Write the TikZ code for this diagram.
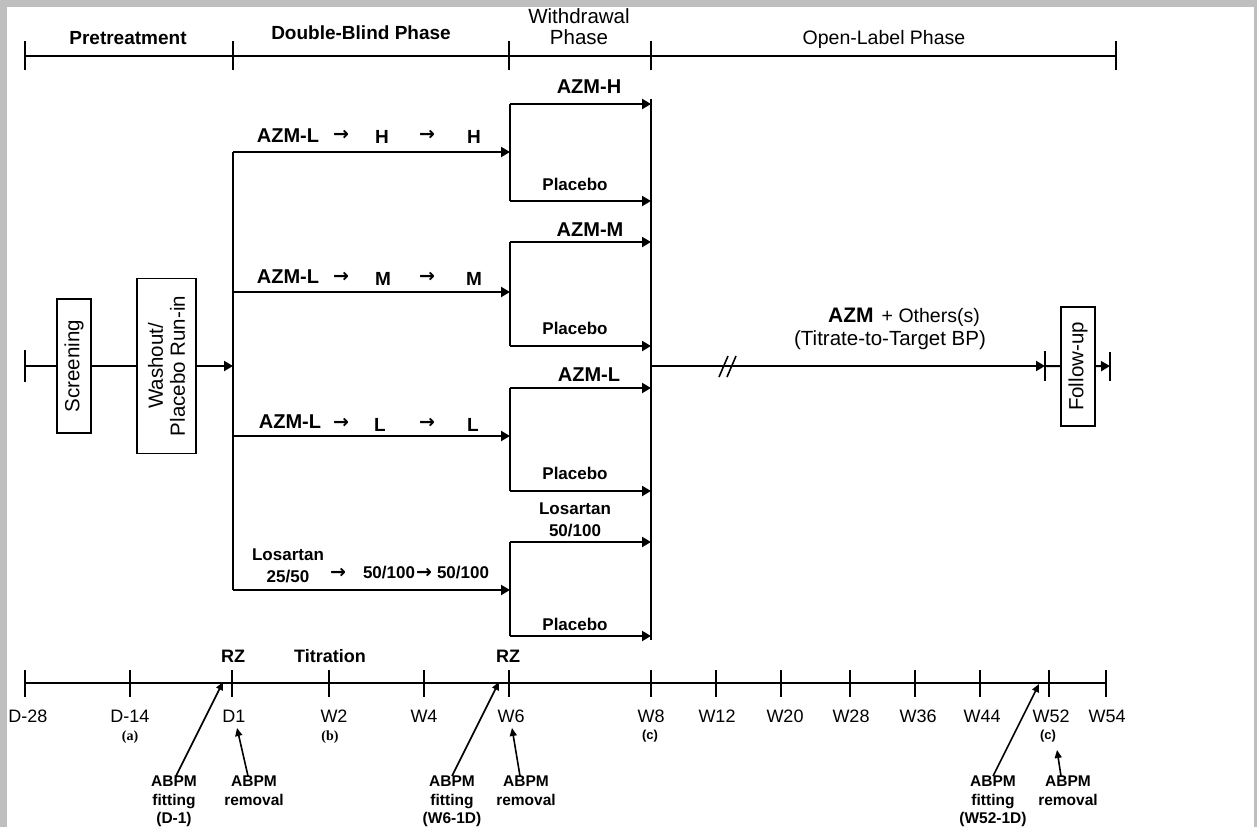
\documentclass[tikz,border=0pt]{standalone}
\usepackage{fontspec}
\setmainfont{Liberation Sans}
\newfontfamily\arrfont{DejaVu Sans}
\newfontfamily\serfont{Liberation Serif}
\usetikzlibrary{arrows.meta}
\definecolor{framegray}{RGB}{191,191,191}
\begin{document}
\begin{tikzpicture}[x=1pt,y=-1pt,
  ln/.style={line width=2pt},
  arr/.style={line width=2pt,-{Triangle[length=9pt,width=10pt]}},
  tk/.style={line width=1.8pt},
  aarr/.style={line width=1.6pt,-{Triangle[length=8pt,width=7pt]}},
  vbox/.style={draw,line width=1.8pt,rotate=90,inner sep=1pt,align=center,font=\fontsize{20.5}{22}\selectfont},
  ttl/.style={font=\fontsize{19}{22}\selectfont\bfseries,inner sep=0pt},
  ttlr/.style={font=\fontsize{19.5}{22}\selectfont,inner sep=0pt,align=center},
  big/.style={font=\fontsize{20}{22}\selectfont\bfseries,inner sep=0pt},
  lvl/.style={font=\fontsize{19}{22}\selectfont\bfseries,inner sep=0pt},
  ra/.style={font=\arrfont\fontsize{19}{20}\selectfont\bfseries,inner sep=0pt},
  mid/.style={font=\fontsize{17}{21.5}\selectfont\bfseries,inner sep=0pt,align=center},
  tl/.style={font=\fontsize{18}{20}\selectfont,inner sep=0pt},
  sm/.style={font=\fontsize{13}{15}\selectfont\bfseries,inner sep=0pt},
  smser/.style={font=\serfont\fontsize{14}{15}\selectfont\bfseries,inner sep=0pt},
  abpm/.style={font=\fontsize{15.5}{18.5}\selectfont\bfseries,inner sep=0pt,align=center,anchor=north}
]
% frame
\fill[framegray] (0,0) rectangle (1257,827);
\fill[white] (7,7) rectangle (1254,827);
\useasboundingbox (0,0) rectangle (1257,827);

% ---- top phase line
\draw[ln] (25,56) -- (1116,56);
\foreach \x in {25,233,509,651,1116} \draw[tk] (\x,41) -- (\x,70);
\node[ttl] (pre) at (128,38) {Pretreatment};
\node[ttl] (dbp) at (361,33) {Double-Blind Phase};
\node[ttlr,font=\fontsize{20.5}{21}\selectfont] (wdp) at (579,27) {Withdrawal\\Phase};
\node[ttlr] (olp) at (884,39) {Open-Label Phase};

% ---- pretreatment flow
\coordinate (start) at (25,366);
\draw[tk] (25,350) -- (25,382);
\node[vbox,minimum width=134,minimum height=34] (scr) at (74,366) {Screening};
\node[vbox,minimum width=175,minimum height=59] (wash) at (166.5,366) {Washout/\\Placebo Run-in};
\coordinate (trunk) at (233,366);
\draw[ln] (start) -- (scr);
\draw[ln] (scr) -- (wash);
\draw[arr] (wash) -- (trunk);

% ---- double-blind branches
\coordinate (b1) at (233,152);
\coordinate (b2) at (233,292);
\coordinate (b3) at (233,436);
\coordinate (b4) at (233,590);
\draw[ln] (b1) -- (b4);
\coordinate (w1) at (510,152);
\coordinate (w2) at (510,292);
\coordinate (w3) at (510,436);
\coordinate (w4) at (510,590);
\foreach \i in {1,2,3,4} \draw[arr] (b\i) -- (w\i);

% branch labels
\node[big] at (288,136) {AZM-L};
\node[ra] at (341,135) {→};
\node[lvl] at (382,137) {H};
\node[ra] at (427,135) {→};
\node[lvl] at (474,137) {H};

\node[big] at (288,277) {AZM-L};
\node[ra] at (341,277) {→};
\node[lvl] at (383,279) {M};
\node[ra] at (427,277) {→};
\node[lvl] at (474,279) {M};

\node[big] at (290,422) {AZM-L};
\node[ra] at (341,423) {→};
\node[lvl] at (380,425) {L};
\node[ra] at (427,423) {→};
\node[lvl] at (473,425) {L};

\node[mid] at (288,566) {Losartan\\25/50};
\node[ra] at (338,573) {→};
\node[mid] at (389,573) {50/100};
\node[ra] at (424,573) {→};
\node[mid] at (463,573) {50/100};

% ---- withdrawal phase
\coordinate (p1a) at (510,104); \coordinate (p1b) at (510,201);
\coordinate (p2a) at (510,242); \coordinate (p2b) at (510,346);
\coordinate (p3a) at (510,388); \coordinate (p3b) at (510,491);
\coordinate (p4a) at (510,542); \coordinate (p4b) at (510,636);
\coordinate (q1a) at (651,104); \coordinate (q1b) at (651,201);
\coordinate (q2a) at (651,242); \coordinate (q2b) at (651,346);
\coordinate (q3a) at (651,388); \coordinate (q3b) at (651,491);
\coordinate (q4a) at (651,542); \coordinate (q4b) at (651,636);
\foreach \i in {1,2,3,4} {
  \draw[ln] (p\i a) -- (p\i b);
  \draw[arr] (p\i a) -- (q\i a);
  \draw[arr] (p\i b) -- (q\i b);
}
\coordinate (ra) at (651,99);
\coordinate (rb) at (651,640);
\draw[ln] (ra) -- (rb);

\node[big] at (589,87) {AZM-H};
\node[mid] at (575,184) {Placebo};
\node[big] at (590,230) {AZM-M};
\node[mid] at (575,328) {Placebo};
\node[big] at (589,375) {AZM-L};
\node[mid] at (575,473) {Placebo};
\node[mid] at (575,520) {Losartan\\50/100};
\node[mid] at (575,624) {Placebo};

% ---- open-label phase
\coordinate (o0) at (651,366);
\coordinate (o1) at (1045,366);
\draw[arr] (o0) -- (o1);
\draw[tk] (1045,351) -- (1045,381);
\draw[line width=1.6pt] (719,377) -- (728,356) (727,377) -- (736,356);
\node[vbox,minimum width=119,minimum height=34] (fu) at (1078,366.5) {Follow-up};
\coordinate (o2) at (1110,366);
\draw[ln] (o1) -- (fu);
\draw[arr] (fu) -- (o2);
\draw[tk] (1110,352) -- (1110,381);
\node[inner sep=0pt] (azm) at (904,317) {{\fontsize{21}{22}\selectfont\bfseries AZM}\hspace{8pt}{\fontsize{19.5}{22}\selectfont + Others(s)}};
\node[ttlr,font=\fontsize{20.5}{22}\selectfont] (ttb) at (890,340) {(Titrate-to-Target BP)};

% ---- bottom timeline
\draw[ln] (25,683) -- (1106,683);
\foreach \x in {25,130,232,329,424,509,651,716,781,850,915,980,1049,1106}
  \draw[tk] (\x,670) -- (\x,697);
\node[mid,font=\fontsize{18}{20}\selectfont\bfseries] at (233,656) {RZ};
\node[mid,font=\fontsize{18}{20}\selectfont\bfseries] at (330,656) {Titration};
\node[mid,font=\fontsize{18}{20}\selectfont\bfseries] at (508,656) {RZ};
\foreach \x/\t in {28/D-28,130/D-14,234/D1,334/W2,424/W4,511/W6,651/W8,717/W12,785/W20,851/W28,918/W36,982/W44,1051/W52,1107/W54}
  \node[tl] at (\x,716) {\t};
\node[smser] at (130,737) {(a)};
\node[smser] at (330,737) {(b)};
\node[sm] at (650,736) {(c)};
\node[sm] at (1048,736) {(c)};

% ABPM notes
\node[abpm] (f1) at (174,776) {ABPM\\fitting\\(D-1)};
\node[abpm] (r1) at (254,776) {ABPM\\removal};
\node[abpm] (f2) at (452,776) {ABPM\\fitting\\(W6-1D)};
\node[abpm] (r2) at (526,776) {ABPM\\removal};
\node[abpm] (f3) at (993,776) {ABPM\\fitting\\(W52-1D)};
\node[abpm] (r3) at (1068,776) {ABPM\\removal};
\coordinate (hf1) at (223,682);
\coordinate (hr1) at (237,728);
\coordinate (hf2) at (499,682);
\coordinate (hr2) at (512,728);
\coordinate (hf3) at (1039,684);
\coordinate (hr3) at (1057,750);
\draw[aarr] ([xshift=2pt]f1.north) -- (hf1);
\draw[aarr] ([xshift=-6pt]r1.north) -- (hr1);
\draw[aarr] (f2.north) -- (hf2);
\draw[aarr] ([xshift=-6pt]r2.north) -- (hr2);
\draw[aarr] (f3.north) -- (hf3);
\draw[aarr] ([xshift=-7pt]r3.north) -- (hr3);
\end{tikzpicture}
\end{document}
